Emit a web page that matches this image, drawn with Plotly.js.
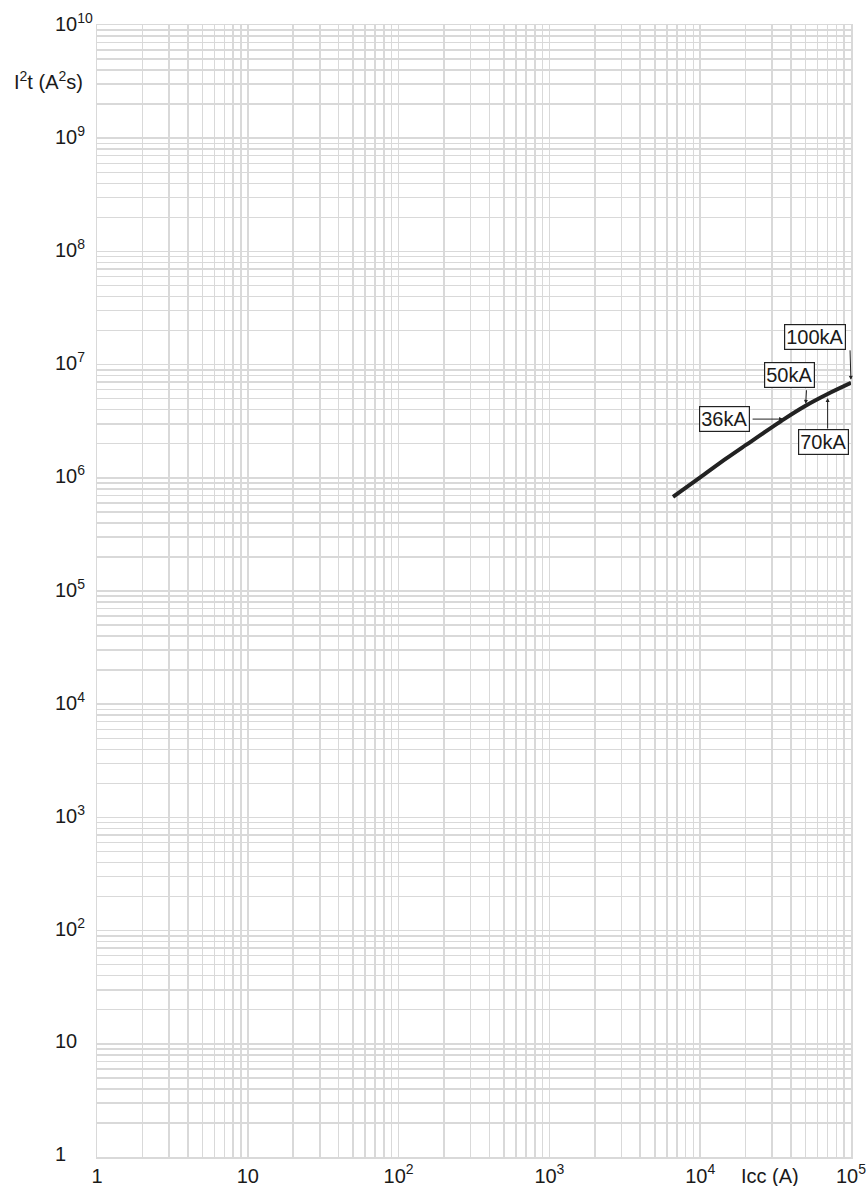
<!DOCTYPE html>
<html>
<head>
<meta charset="utf-8">
<script src="https://cdn.plot.ly/plotly-3.0.1.min.js"></script>
<style>html,body{margin:0;padding:0;background:#fff;}#chart{width:867px;height:1186px;}</style>
</head>
<body>
<div id="chart"></div>
<script>
// Curve: prospective short-circuit current Icc (A) vs let-through energy I²t (A²s)
var icc = [6600, 10000, 15000, 20000, 36000, 50000, 70000, 100000];
var i2t = [6.8e5, 1.01e6, 1.49e6, 1.94e6, 3.3e6, 4.33e6, 5.5e6, 6.9e6];

// Breaking-capacity markers (kA) and the index of their point on the curve
var ratingLabels = ['36kA', '50kA', '70kA', '100kA'];
var ratingIndex = [4, 5, 6, 7];

// Axis ticks
var xTickVals = [1, 10, 100, 1000, 10000, 100000];
var xTickText = ['1', '10', '10<sup>2</sup>', '10<sup>3</sup>', '10<sup>4</sup>', '10<sup>5</sup>'];
var yTickVals = [1, 10, 100, 1e3, 1e4, 1e5, 1e6, 1e7, 1e8, 1e9, 1e10];
var yTickText = ['1', '10', '10<sup>2</sup>', '10<sup>3</sup>', '10<sup>4</sup>', '10<sup>5</sup>',
                 '10<sup>6</sup>', '10<sup>7</sup>', '10<sup>8</sup>', '10<sup>9</sup>', '10<sup>10</sup>'];

var FONT = 'Liberation Sans, Arial, sans-serif';
var TXT = '#1a1a1a';
var GRID = '#d9d9d9';

var trace = {
  x: icc, y: i2t, type: 'scatter', mode: 'lines',
  line: {color: '#222222', width: 4, shape: 'spline', smoothing: 0.8},
  hoverinfo: 'x+y'
};

var annotations = [];
// y tick labels (left-aligned)
yTickVals.forEach(function (v, i) {
  annotations.push({
    xref: 'paper', yref: 'y', x: -0.058, y: Math.log10(v),
    xanchor: 'left', yanchor: 'middle', yshift: 3,
    text: yTickText[i], showarrow: false,
    font: {family: FONT, size: 20, color: TXT}
  });
});
// axis titles
annotations.push({xref: 'paper', yref: 'paper', x: -0.0637, y: 0.9514, xanchor: 'center', yanchor: 'middle',
  text: 'I<sup>2</sup>t (A<sup>2</sup>s)', showarrow: false, font: {family: FONT, size: 20, color: TXT}});
annotations.push({xref: 'paper', yref: 'paper', x: 0.892, y: -0.0168, xanchor: 'center', yanchor: 'middle',
  text: 'Icc (A)', showarrow: false, font: {family: FONT, size: 20, color: TXT}});

// Label boxes
var boxPos = [[0.8316, 0.6522], [0.9184, 0.6904], [0.9635, 0.6316], [0.9523, 0.7244]];
var arrowOff = [[-33, 0, 1], [1, -17, 2], [0, 36, 4], [-1, -34, 3]];
ratingLabels.forEach(function (lab, k) {
  annotations.push({
    xref: 'paper', yref: 'paper', x: boxPos[k][0], y: boxPos[k][1],
    xanchor: 'center', yanchor: 'middle', text: lab, showarrow: false,
    font: {family: FONT, size: 20, color: TXT},
    bgcolor: '#ffffff', bordercolor: '#222222', borderwidth: 1.2, borderpad: 1
  });
  var idx = ratingIndex[k];
  annotations.push({
    xref: 'x', yref: 'y', x: Math.log10(icc[idx]), y: Math.log10(i2t[idx]),
    text: '', showarrow: true, arrowhead: 2, arrowsize: 0.8, arrowwidth: 1, arrowcolor: '#222222',
    ax: arrowOff[k][0], ay: arrowOff[k][1], standoff: arrowOff[k][2]
  });
});

var axisCommon = {
  type: 'log', showgrid: true, gridcolor: GRID, gridwidth: 1.5,
  showline: true, linecolor: GRID, linewidth: 1.5, mirror: true,
  zeroline: false, ticks: '',
  minor: {dtick: 'D1', showgrid: true, gridcolor: GRID, gridwidth: 1.5, ticks: ''}
};

var layout = {
  width: 867, height: 1186,
  margin: {l: 97, r: 16, t: 25, b: 29},
  paper_bgcolor: '#ffffff', plot_bgcolor: '#ffffff',
  showlegend: false,
  font: {family: FONT, size: 20, color: TXT},
  xaxis: Object.assign({}, axisCommon, {
    range: [0, 5], tickmode: 'array', tickvals: xTickVals, ticktext: xTickText,
    tickfont: {family: FONT, size: 20, color: TXT}
  }),
  yaxis: Object.assign({}, axisCommon, {
    range: [0, 10], tickmode: 'array', tickvals: yTickVals, showticklabels: false
  }),
  annotations: annotations
};

Plotly.newPlot('chart', [trace], layout, {displayModeBar: false, staticPlot: true});
</script>
</body>
</html>
